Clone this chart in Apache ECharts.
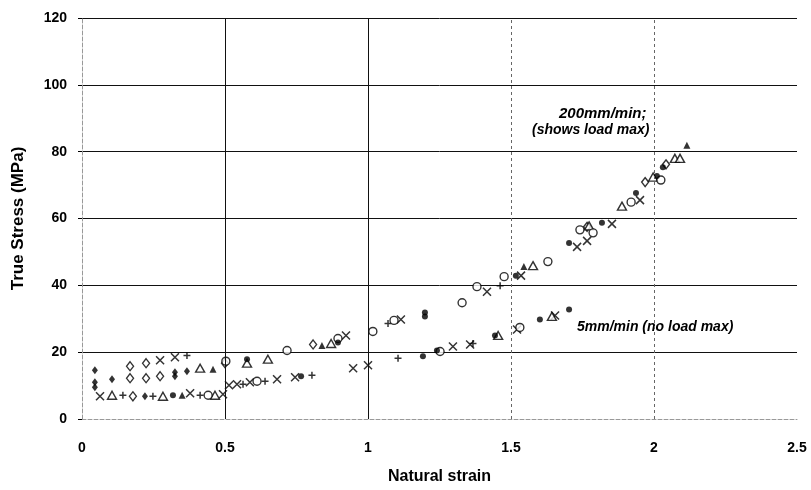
<!DOCTYPE html>
<html>
<head>
<meta charset="utf-8">
<script src="https://cdn.jsdelivr.net/npm/echarts@6/dist/echarts.min.js"></script>
<style>
  html, body { margin: 0; padding: 0; background: #fff; }
  #chart { width: 811px; height: 490px; }
</style>
</head>
<body>
<div id="chart"></div>
<script>
// Natural strain vs true stress, two crosshead speeds, one array per specimen marker
const xTicks = [0, 0.5, 1, 1.5, 2, 2.5];
const yTicks = [0, 20, 40, 60, 80, 100, 120];

const openDiamond = [
  [0.168, 15.8], [0.224, 16.7], [0.168, 12.2], [0.224, 12.2], [0.273, 12.8],
  [0.500, 16.7], [0.178, 6.8], [0.808, 22.3], [1.766, 57.5], [1.969, 70.9], [2.042, 76.2]
];
const filledDiamond = [
  [0.045, 14.6], [0.045, 11.0], [0.045, 9.5], [0.105, 11.9], [0.325, 14.0],
  [0.325, 12.8], [0.367, 14.3], [0.220, 6.8]
];
const crossMarks = [
  [0.273, 17.6], [0.325, 18.5], [0.063, 6.8], [0.378, 7.7], [0.493, 7.4],
  [0.514, 10.1], [0.542, 10.4], [0.587, 11.0], [0.682, 11.9], [0.745, 12.5],
  [0.948, 15.2], [1.000, 16.1], [0.923, 25.0], [1.115, 29.8], [1.297, 21.7],
  [1.357, 22.3], [1.416, 38.1], [1.535, 42.9], [1.521, 26.8], [1.654, 31.0],
  [1.731, 51.5], [1.766, 53.3], [1.853, 58.4], [1.951, 65.5]
];
const plusMarks = [
  [0.367, 19.0], [0.143, 7.1], [0.248, 6.8], [0.413, 7.1], [0.563, 10.4],
  [0.640, 11.3], [1.105, 18.2], [1.070, 28.6], [1.462, 39.9], [1.367, 22.6], [0.804, 13.1]
];
const filledTriangle = [
  [0.458, 14.9], [0.350, 7.1], [0.839, 22.0], [1.545, 45.6], [2.115, 81.9]
];
const openTriangle = [
  [0.283, 6.8], [0.413, 15.2], [0.465, 7.1], [0.577, 16.7], [0.650, 17.9],
  [0.871, 22.6], [1.577, 45.9], [1.455, 25.0], [1.643, 30.7], [1.773, 57.8],
  [1.888, 63.7], [1.997, 72.4], [2.073, 78.0], [2.091, 78.0], [0.105, 7.1]
];
const openCircle = [
  [0.441, 7.1], [0.612, 11.3], [0.503, 17.3], [0.717, 20.5], [0.895, 24.1],
  [1.017, 26.2], [1.091, 29.5], [1.252, 20.2], [1.329, 34.8], [1.381, 39.6],
  [1.476, 42.6], [1.531, 27.4], [1.629, 47.1], [1.741, 56.6], [1.787, 55.7],
  [1.920, 64.9], [2.024, 71.5]
];
const filledCircle = [
  [0.318, 7.1], [0.577, 17.9], [0.766, 12.8], [0.895, 22.9], [1.199, 31.9],
  [1.199, 30.7], [1.241, 20.5], [1.444, 25.0], [1.517, 42.9], [1.601, 29.8],
  [1.703, 32.8], [1.703, 52.7], [1.818, 58.7], [1.937, 67.6], [2.010, 72.7],
  [2.031, 75.3], [1.192, 18.8]
];

const FONT = '"Liberation Sans", Arial, sans-serif';
const INK = '#000';

function markerSeries(name, data, symbol, size, filled, extra) {
  return Object.assign({
    name: name,
    type: 'scatter',
    data: data,
    symbol: symbol,
    symbolSize: size,
    silent: true,
    itemStyle: filled
      ? { color: INK, borderWidth: 0 }
      : { color: '#fff', borderColor: INK, borderWidth: 1.4 }
  }, extra || {});
}

const chart = echarts.init(document.getElementById('chart'), null, { renderer: 'canvas' });

const option = {
  backgroundColor: '#fff',
  animation: false,
  grid: { left: 82, right: 14, top: 18, bottom: 69, containLabel: false },
  xAxis: {
    type: 'value',
    min: xTicks[0],
    max: xTicks[xTicks.length - 1],
    interval: 0.5,
    name: 'Natural strain',
    nameLocation: 'middle',
    nameGap: 50,
    nameTextStyle: { fontFamily: FONT, fontWeight: 'bold', fontSize: 16, color: INK },
    axisLine: { show: true, lineStyle: { color: '#999', type: 'dashed', width: 1 } },
    axisTick: { show: false },
    axisLabel: { margin: 22, fontFamily: FONT, fontWeight: 'bold', fontSize: 14, color: INK },
    splitLine: { show: false }
  },
  yAxis: {
    type: 'value',
    min: yTicks[0],
    max: yTicks[yTicks.length - 1],
    interval: 20,
    name: 'True Stress (MPa)',
    nameLocation: 'middle',
    nameGap: 55,
    nameRotate: 90,
    nameTextStyle: { fontFamily: FONT, fontWeight: 'bold', fontSize: 17, color: INK },
    axisLine: { show: true, lineStyle: { color: '#999', type: 'dashed', width: 1 } },
    axisTick: { show: true, length: 4, lineStyle: { color: INK } },
    axisLabel: { margin: 15, fontFamily: FONT, fontWeight: 'bold', fontSize: 14, color: INK },
    splitLine: { show: true, showMinLine: false, lineStyle: { color: '#111', width: 1, type: 'solid' } }
  },
  series: [
    markerSeries('open diamond', openDiamond, 'diamond', [7, 9], false, {
      markLine: {
        silent: true,
        symbol: 'none',
        animation: false,
        label: { show: false },
        data: [
          { xAxis: 0.5, lineStyle: { color: '#111', type: 'solid', width: 1 } },
          { xAxis: 1.0, lineStyle: { color: '#111', type: 'solid', width: 1 } },
          { xAxis: 1.5, lineStyle: { color: '#666', type: [3, 3], width: 1 } },
          { xAxis: 2.0, lineStyle: { color: '#666', type: [3, 3], width: 1 } }
        ]
      }
    }),
    markerSeries('filled diamond', filledDiamond, 'diamond', [6, 8], true),
    markerSeries('cross', crossMarks, 'path://M0,0L10,10M10,0L0,10', 8, false,
      { itemStyle: { color: 'rgba(0,0,0,0)', borderColor: INK, borderWidth: 1.5 } }),
    markerSeries('plus', plusMarks, 'path://M5,0L5,10M0,5L10,5', 7, false,
      { itemStyle: { color: 'rgba(0,0,0,0)', borderColor: INK, borderWidth: 1.5 } }),
    markerSeries('filled triangle', filledTriangle, 'triangle', 7, true),
    markerSeries('open triangle', openTriangle, 'triangle', [9, 8], false),
    markerSeries('open circle', openCircle, 'circle', 8, false),
    markerSeries('filled circle', filledCircle, 'circle', 6, true)
  ],
  graphic: [
    {
      type: 'text', left: 559, top: 106, silent: true,
      style: { text: '200mm/min;', font: 'italic bold 15px ' + FONT, fill: INK }
    },
    {
      type: 'text', left: 532, top: 123, silent: true,
      style: { text: '(shows load max)', font: 'italic bold 14px ' + FONT, fill: INK }
    },
    {
      type: 'text', left: 577, top: 320, silent: true,
      style: { text: '5mm/min (no load max)', font: 'italic bold 14px ' + FONT, fill: INK }
    }
  ]
};

chart.setOption(option);
</script>
</body>
</html>
